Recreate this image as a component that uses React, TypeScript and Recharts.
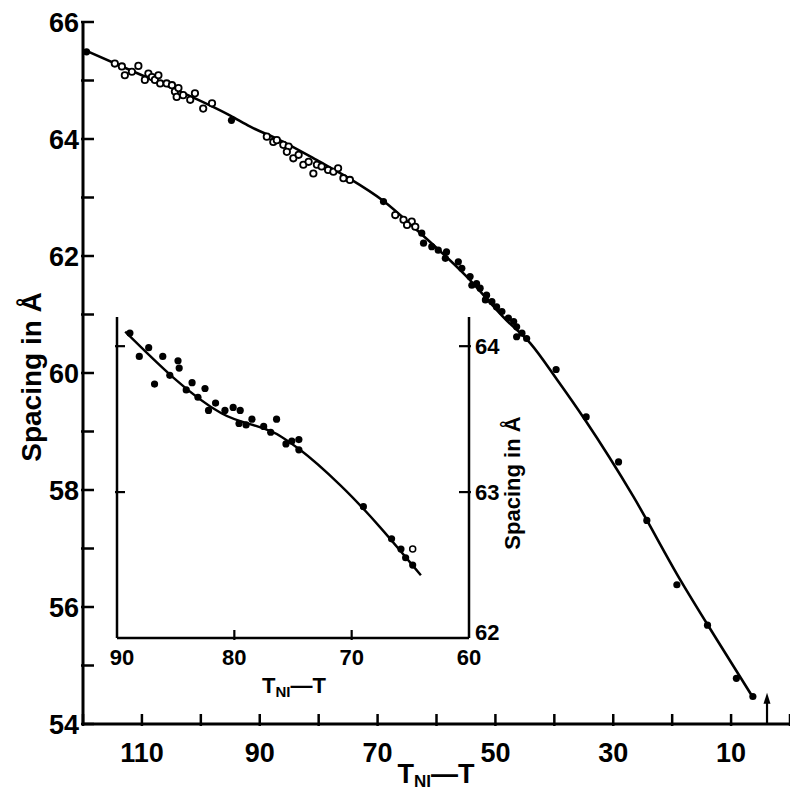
import React from 'react';
import { ComposedChart, XAxis, YAxis, Line, Scatter } from 'recharts';

const FONT = '"Liberation Sans", Arial, Helvetica, sans-serif';

// ---------- main chart axes ----------
const mainXTicks = [0, 10, 20, 30, 40, 50, 60, 70, 80, 90, 100, 110, 120];
const mainXLabels = [110, 90, 70, 50, 30, 10];
const mainYTicks = [54, 55, 56, 57, 58, 59, 60, 61, 62, 63, 64, 65, 66];
const mainYLabels = [54, 56, 58, 60, 62, 64, 66];

// ---------- main chart data (T_NI - T, spacing in Å) ----------
const mainOpenPoints = [
  { t: 114.6, s: 65.29 }, { t: 113.4, s: 65.24 }, { t: 112.9, s: 65.09 }, { t: 111.7, s: 65.15 },
  { t: 110.6, s: 65.25 }, { t: 109.5, s: 65.01 }, { t: 108.9, s: 65.12 }, { t: 108.3, s: 65.06 },
  { t: 107.8, s: 65.01 }, { t: 107.2, s: 65.09 }, { t: 106.9, s: 64.95 }, { t: 105.8, s: 64.95 },
  { t: 104.9, s: 64.92 }, { t: 104.4, s: 64.81 }, { t: 103.8, s: 64.87 }, { t: 104.1, s: 64.72 },
  { t: 103.0, s: 64.75 }, { t: 101.8, s: 64.67 }, { t: 101.0, s: 64.78 }, { t: 99.6, s: 64.52 },
  { t: 98.1, s: 64.61 }, { t: 88.8, s: 64.04 }, { t: 87.7, s: 63.95 }, { t: 87.1, s: 63.98 },
  { t: 86.0, s: 63.90 }, { t: 85.1, s: 63.87 }, { t: 85.4, s: 63.78 }, { t: 84.3, s: 63.67 },
  { t: 83.4, s: 63.73 }, { t: 82.6, s: 63.56 }, { t: 81.7, s: 63.61 }, { t: 80.9, s: 63.41 },
  { t: 80.3, s: 63.56 }, { t: 79.5, s: 63.53 }, { t: 78.4, s: 63.47 }, { t: 77.5, s: 63.44 },
  { t: 76.7, s: 63.50 }, { t: 75.8, s: 63.33 }, { t: 74.7, s: 63.30 }, { t: 67.0, s: 62.70 },
  { t: 65.6, s: 62.62 }, { t: 64.2, s: 62.59 }, { t: 65.0, s: 62.53 }, { t: 63.6, s: 62.50 },
];
const mainFilledPoints = [
  { t: 119.4, s: 65.49 }, { t: 94.8, s: 64.32 }, { t: 69.0, s: 62.93 },
  { t: 62.5, s: 62.39 }, { t: 62.2, s: 62.22 }, { t: 60.8, s: 62.16 }, { t: 59.7, s: 62.10 },
  { t: 58.3, s: 62.07 }, { t: 58.5, s: 61.96 }, { t: 56.3, s: 61.90 }, { t: 55.7, s: 61.79 },
  { t: 54.3, s: 61.65 }, { t: 53.2, s: 61.53 }, { t: 54.0, s: 61.50 }, { t: 52.6, s: 61.45 },
  { t: 51.5, s: 61.33 }, { t: 51.7, s: 61.25 }, { t: 50.6, s: 61.22 }, { t: 49.8, s: 61.13 },
  { t: 48.9, s: 61.05 }, { t: 47.8, s: 60.94 }, { t: 46.9, s: 60.88 }, { t: 46.4, s: 60.79 },
  { t: 45.5, s: 60.68 }, { t: 44.7, s: 60.59 }, { t: 46.4, s: 60.62 },
  { t: 39.7, s: 60.06 }, { t: 34.6, s: 59.25 }, { t: 29.1, s: 58.48 }, { t: 24.3, s: 57.48 },
  { t: 19.2, s: 56.38 }, { t: 14.0, s: 55.69 }, { t: 9.1, s: 54.78 }, { t: 6.3, s: 54.47 },
];
const mainArrowPoint = [{ t: 3.9, s: 54.45 }];
const mainCurve = [
  { t: 119.7, s: 65.52 }, { t: 110, s: 65.09 }, { t: 103.5, s: 64.81 }, { t: 95, s: 64.40 },
  { t: 91.6, s: 64.21 }, { t: 86.6, s: 63.98 }, { t: 80, s: 63.62 }, { t: 74.7, s: 63.32 },
  { t: 69, s: 62.94 }, { t: 63.4, s: 62.45 }, { t: 55, s: 61.66 }, { t: 48.2, s: 60.91 },
  { t: 44.1, s: 60.51 }, { t: 39.5, s: 59.88 }, { t: 34.8, s: 59.2 }, { t: 26.6, s: 57.89 },
  { t: 18.6, s: 56.46 }, { t: 12.4, s: 55.44 }, { t: 6.2, s: 54.44 },
];

// ---------- inset ----------
const insetXTicks = [60, 70, 80, 90];
const insetXTickMarks = [70, 80];
const insetYTicks = [62, 63, 64];
const insetYTickMarks = [63, 64];
const insetPoints = [
  { t: 88.9, s: 64.09 }, { t: 88.1, s: 63.93 }, { t: 87.3, s: 63.99 }, { t: 86.8, s: 63.74 },
  { t: 86.1, s: 63.93 }, { t: 85.5, s: 63.80 }, { t: 84.8, s: 63.90 }, { t: 84.7, s: 63.85 },
  { t: 84.1, s: 63.70 }, { t: 83.6, s: 63.75 }, { t: 83.1, s: 63.65 }, { t: 82.5, s: 63.71 },
  { t: 82.2, s: 63.56 }, { t: 81.6, s: 63.61 }, { t: 80.8, s: 63.56 }, { t: 80.1, s: 63.58 },
  { t: 79.5, s: 63.56 }, { t: 79.6, s: 63.47 }, { t: 79.0, s: 63.46 }, { t: 78.5, s: 63.50 },
  { t: 77.5, s: 63.45 }, { t: 76.9, s: 63.41 }, { t: 76.4, s: 63.50 }, { t: 75.6, s: 63.33 },
  { t: 75.1, s: 63.35 }, { t: 74.5, s: 63.36 }, { t: 74.5, s: 63.29 }, { t: 69.0, s: 62.90 },
  { t: 66.6, s: 62.68 }, { t: 65.8, s: 62.61 }, { t: 65.4, s: 62.55 }, { t: 64.8, s: 62.50 },
];
const insetOpenPoints = [{ t: 64.8, s: 62.61 }];
const insetLine = [
  { t: 89.3, s: 64.10 }, { t: 81.1, s: 63.54 }, { t: 76.0, s: 63.38 },
  { t: 74.4, s: 63.29 }, { t: 71.0, s: 63.05 }, { t: 64.1, s: 62.43 },
];

const txt = { fontFamily: FONT, fontWeight: 'bold' as const, fill: '#000' };

// ---------- tick renderers ----------
const MainBottomTick = ({ x, y, payload }: any) => (
  <g>
    <line x1={x} y1={y} x2={x} y2={y - 12} stroke="#000" strokeWidth={2.5} />
    {mainXLabels.includes(payload.value) && (
      <text x={x} y={y + 36} textAnchor="middle" fontSize={27} {...txt}>{payload.value}</text>
    )}
  </g>
);
const MainTopTick = ({ x, y }: any) => (
  <line x1={x} y1={y} x2={x} y2={y + 12} stroke="#000" strokeWidth={2.5} />
);
const MainLeftTick = ({ x, y, payload }: any) => (
  <g>
    <line x1={x} y1={y} x2={x + 13} y2={y} stroke="#000" strokeWidth={2.5} />
    {mainYLabels.includes(payload.value) && (
      <text x={x - 2} y={y + 10} textAnchor="end" fontSize={27} {...txt}>{payload.value}</text>
    )}
  </g>
);
const MainRightTick = ({ x, y }: any) => (
  <line x1={x - 12} y1={y} x2={x} y2={y} stroke="#000" strokeWidth={2.5} />
);

const InsetBottomTick = ({ x, y, payload }: any) => (
  <g>
    {insetXTickMarks.includes(payload.value) && (
      <line x1={x} y1={y} x2={x} y2={y - 10} stroke="#000" strokeWidth={2.2} />
    )}
    <text x={x + (payload.value === 90 ? 5 : 0)} y={y + 25} textAnchor="middle" fontSize={22} {...txt}>{payload.value}</text>
  </g>
);
const InsetTopTick = ({ x, y, payload }: any) =>
  insetXTickMarks.includes(payload.value) ? (
    <line x1={x} y1={y} x2={x} y2={y + 10} stroke="#000" strokeWidth={2.2} />
  ) : <g />;
const InsetLeftTick = ({ x, y, payload }: any) =>
  insetYTickMarks.includes(payload.value) ? (
    <line x1={x} y1={y} x2={x + 10} y2={y} stroke="#000" strokeWidth={2.2} />
  ) : <g />;
const InsetRightTick = ({ x, y, payload }: any) => (
  <g>
    {insetYTickMarks.includes(payload.value) && (
      <line x1={x - 12} y1={y} x2={x} y2={y} stroke="#000" strokeWidth={2.2} />
    )}
    <text x={x + 4} y={y + 8 - (payload.value === 62 ? 6 : 0)} textAnchor="start" fontSize={22} {...txt}>{payload.value}</text>
  </g>
);

// ---------- shapes ----------
const OpenDot = (p: any) => (
  <circle cx={p.cx} cy={p.cy} r={3.2} fill="#fff" stroke="#000" strokeWidth={1.8} />
);
const FilledDot = (p: any) => <circle cx={p.cx} cy={p.cy} r={3.6} fill="#000" />;
const SmallOpenDot = (p: any) => (
  <circle cx={p.cx} cy={p.cy} r={3} fill="#fff" stroke="#000" strokeWidth={1.5} />
);
const ArrowShape = (p: any) => (
  <g>
    <line x1={p.cx} y1={p.cy + 2} x2={p.cx} y2={p.cy + 27} stroke="#000" strokeWidth={2.2} />
    <path d={`M${p.cx - 3.5},${p.cy + 6} L${p.cx},${p.cy - 5} L${p.cx + 3.5},${p.cy + 6} Z`} fill="#000" />
  </g>
);

const axisLine = { stroke: '#000', strokeWidth: 3 };
const insetAxisLine = { stroke: '#000', strokeWidth: 2.5 };

export default function App() {
  return (
    <div style={{ position: 'absolute', left: 0, top: 0, width: 790, height: 795, background: '#fff' }}>
      <div style={{ position: 'absolute', left: 0, top: 0 }}>
        <ComposedChart width={790} height={795} margin={{ top: 22, right: 0, bottom: 0, left: 0 }}>
          <XAxis
            dataKey="t" type="number" domain={[0, 120]} reversed ticks={mainXTicks} interval={0}
            height={71} tickSize={0} tickLine={false} axisLine={axisLine} tick={MainBottomTick}
            allowDataOverflow
            label={{
              content: () => (
                <text x={436} y={783} textAnchor="middle" fontSize={27} {...txt}>
                  T<tspan fontSize={17} dy={4}>NI</tspan><tspan dy={-4}>—T</tspan>
                </text>
              ),
            }}
          />
          <XAxis
            xAxisId="top" orientation="top" dataKey="t" type="number" domain={[0, 120]} reversed
            ticks={mainXTicks} interval={0} height={0} tickSize={0} tickLine={false}
            axisLine={axisLine} tick={MainTopTick} allowDataOverflow
            label={{
              content: () => (
                <text x={610} y={85} textAnchor="middle" fontSize={27} {...txt}>12 PMCBB</text>
              ),
            }}
          />
          <YAxis
            type="number" domain={[54, 66]} ticks={mainYTicks} interval={0} width={83}
            tickSize={0} tickLine={false} axisLine={axisLine} tick={MainLeftTick} allowDataOverflow
            label={{
              content: () => (
                <text transform="translate(41,377) rotate(-90)" textAnchor="middle" fontSize={28} {...txt}>
                  Spacing in Å
                </text>
              ),
            }}
          />
          <YAxis
            yAxisId="right" orientation="right" type="number" domain={[54, 66]} ticks={mainYTicks}
            interval={0} width={0} tickSize={0} tickLine={false} axisLine={false} tick={MainRightTick}
            allowDataOverflow
          />
          <Line
            data={mainCurve} dataKey="s" type="monotone" stroke="#000" strokeWidth={2.6}
            dot={false} activeDot={false} isAnimationActive={false}
          />
          <Scatter data={mainOpenPoints} dataKey="s" shape={OpenDot} isAnimationActive={false} />
          <Scatter data={mainFilledPoints} dataKey="s" shape={FilledDot} isAnimationActive={false} />
          <Scatter data={mainArrowPoint} dataKey="s" shape={ArrowShape} isAnimationActive={false} />
        </ComposedChart>
      </div>
      <div style={{ position: 'absolute', left: 57, top: 287 }}>
        <ComposedChart width={493} height={423} margin={{ top: 30, right: 0, bottom: 0, left: 0 }}>
          <XAxis
            dataKey="t" type="number" domain={[60, 90]} reversed ticks={insetXTicks} interval={0}
            height={72} tickSize={0} tickLine={false} axisLine={insetAxisLine} tick={InsetBottomTick}
            allowDataOverflow
            label={{
              content: () => (
                <text x={237} y={406} textAnchor="middle" fontSize={22} {...txt}>
                  T<tspan fontSize={15} dy={4}>NI</tspan><tspan dy={-4}>—T</tspan>
                </text>
              ),
            }}
          />
          <XAxis
            xAxisId="top" orientation="top" dataKey="t" type="number" domain={[60, 90]} reversed
            ticks={insetXTicks} interval={0} height={0} tickSize={0} tickLine={false}
            axisLine={insetAxisLine} tick={InsetTopTick} allowDataOverflow
          />
          <YAxis
            type="number" domain={[62, 64.2]} ticks={insetYTicks} interval={0} width={60}
            tickSize={0} tickLine={false} axisLine={insetAxisLine} tick={InsetLeftTick} allowDataOverflow
          />
          <YAxis
            yAxisId="right" orientation="right" type="number" domain={[62, 64.2]} ticks={insetYTicks}
            interval={0} width={81} tickSize={0} tickLine={false} axisLine={insetAxisLine}
            tick={InsetRightTick} allowDataOverflow
            label={{
              content: () => (
                <text transform="translate(463,196) rotate(-90)" textAnchor="middle" fontSize={22} {...txt}>
                  Spacing in Å
                </text>
              ),
            }}
          />
          <Line
            data={insetLine} dataKey="s" type="monotone" stroke="#000" strokeWidth={2.4}
            dot={false} activeDot={false} isAnimationActive={false}
          />
          <Scatter data={insetPoints} dataKey="s" shape={FilledDot} isAnimationActive={false} />
          <Scatter data={insetOpenPoints} dataKey="s" shape={SmallOpenDot} isAnimationActive={false} />
        </ComposedChart>
      </div>
    </div>
  );
}
